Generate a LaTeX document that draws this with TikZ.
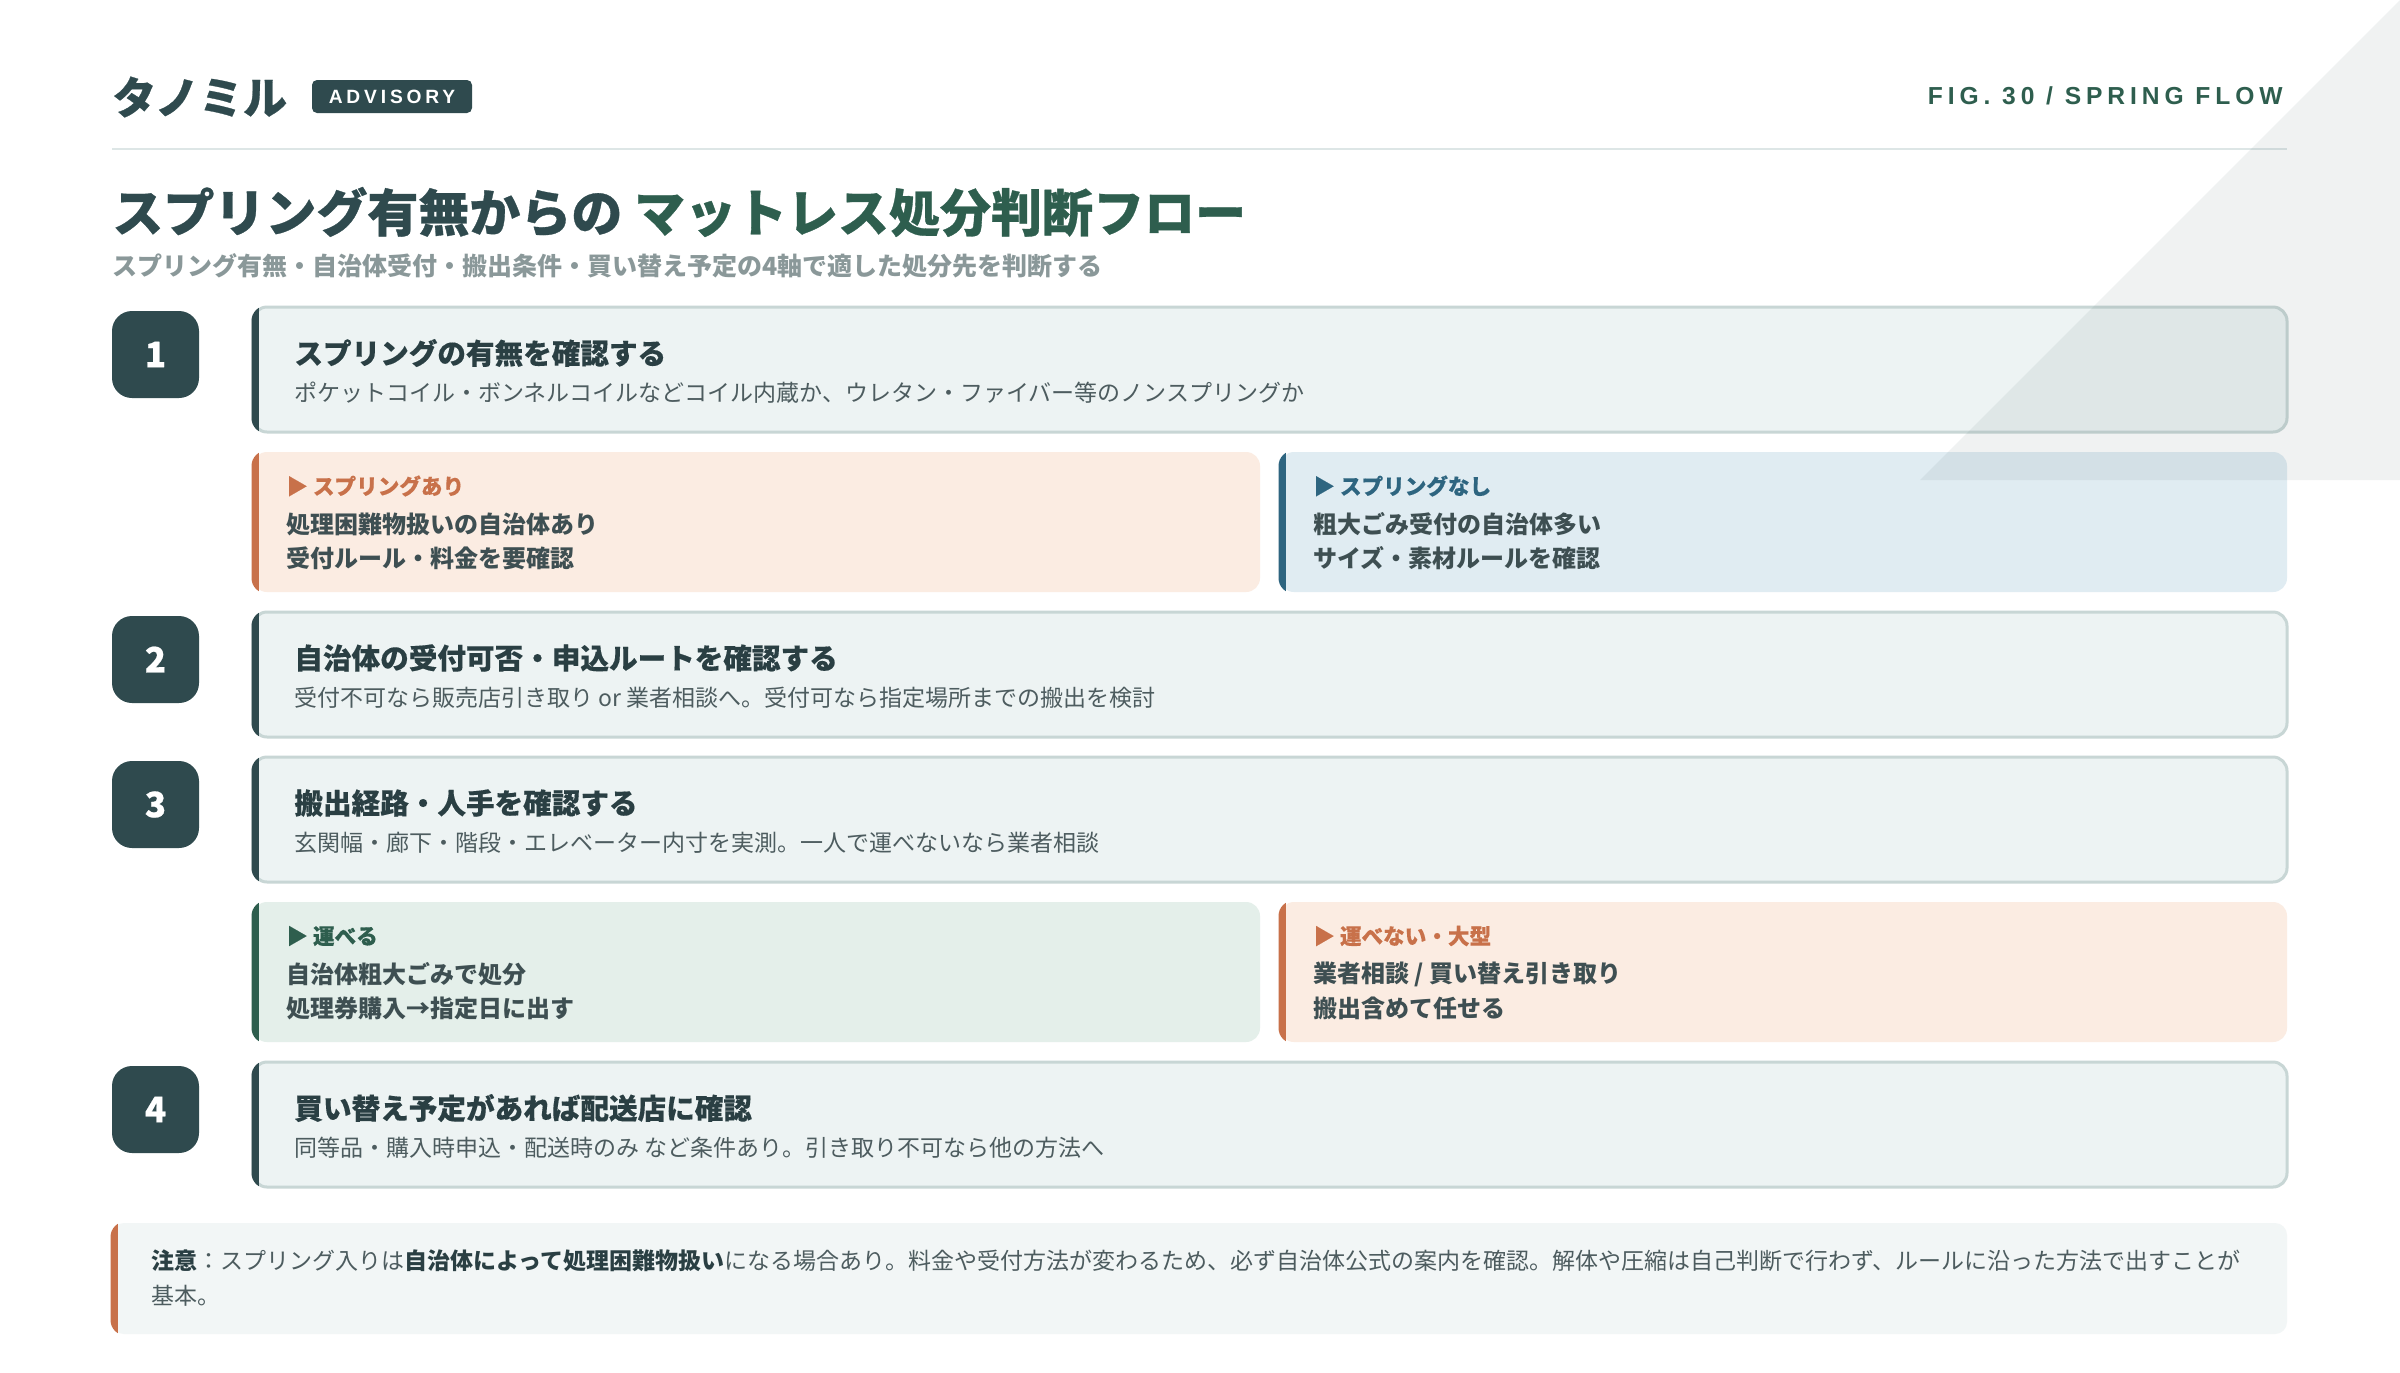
\documentclass[tikz,border=0pt]{standalone}
\usepackage{fontspec}
\setmainfont{Noto Sans CJK JP}
\newfontfamily\heavyfont{Noto Sans CJK JP}[BoldFeatures={FakeBold=0.6}]
\newfontfamily\midfont{Noto Sans CJK JP}[BoldFeatures={FakeBold=0.3}]
\newfontfamily\figfont{Liberation Sans}[LetterSpace=20]
\definecolor{slate}{HTML}{2F4A4E}
\definecolor{titlegreen}{HTML}{2E5E4E}
\definecolor{stepfill}{HTML}{EDF3F3}
\definecolor{stepline}{HTML}{C8D6D5}
\definecolor{peach}{HTML}{FBECE2}
\definecolor{orangeacc}{HTML}{C8714A}
\definecolor{bluefill}{HTML}{E0ECF2}
\definecolor{blueacc}{HTML}{2E6580}
\definecolor{greenfill}{HTML}{E4EFEA}
\definecolor{greenacc}{HTML}{2E5E4E}
\definecolor{notefill}{HTML}{F2F6F6}
\definecolor{descgray}{HTML}{4D5C5F}
\definecolor{brtext}{HTML}{3E4F52}
\definecolor{subgray}{HTML}{8A9899}
\definecolor{sepline}{HTML}{DDE6E6}
\definecolor{titledark}{HTML}{2A3F43}

\newcommand\accentbar[3]{%
  \begin{scope}
    \clip[rounded corners=7.75pt] ([shift={(-0.75pt,0.75pt)}]#1.north west) rectangle ([shift={(0.75pt,-0.75pt)}]#1.south east);
    \fill[#2] ([shift={(-1pt,1pt)}]#1.north west) rectangle ([shift={(#3,-1pt)}]#1.south west);
  \end{scope}}

\newcommand\stepblock[5]{%
  \node[stepbox] (s#1) at (1270,#2+62.5) {};
  \accentbar{s#1}{slate}{3.2pt}
  \node[badge] (b#1) at (155.5,#2+47.5) {#3};
  \node[steptitle] (s#1t) at (294,#2+46) {#4};
  \node[stepdesc] (s#1d) at (294,#2+86) {#5};}

\newcommand\branchblock[8]{%
  \node[branchbox, fill=#4] (r#1) at (#2+503.5,#3+70) {};
  \accentbar{r#1}{#5}{3pt}
  \node[brlabel, text=#5] (r#1a) at (#2+33,#3+34) {▶ #6};
  \node[brline] (r#1b) at (#2+33,#3+72) {#7};
  \node[brline] (r#1c) at (#2+33,#3+106) {#8};}

\begin{document}
\begin{tikzpicture}[x=0.5pt,y=-0.5pt,
  stepbox/.style={rectangle, rounded corners=7pt, fill=stepfill, draw=stepline, line width=1.5pt, minimum width=1017pt, minimum height=62.5pt, inner sep=0pt, outer sep=0pt},
  branchbox/.style={rectangle, rounded corners=7pt, minimum width=503.5pt, minimum height=70pt, inner sep=0pt, outer sep=0pt},
  notebox/.style={rectangle, rounded corners=6pt, fill=notefill, minimum width=1087.5pt, minimum height=55.5pt, inner sep=0pt, outer sep=0pt},
  badge/.style={rectangle, rounded corners=10pt, fill=slate, minimum size=43.5pt, inner sep=0pt, text=white, font=\heavyfont\bfseries\fontsize{17.5}{18}\selectfont},
  txt/.style={anchor=west, inner sep=0pt},
  steptitle/.style={txt, text=titledark, font=\midfont\bfseries\fontsize{14.3}{16}\selectfont},
  stepdesc/.style={txt, text=descgray, font=\fontsize{11.5}{14}\selectfont},
  brlabel/.style={txt, font=\midfont\bfseries\fontsize{10.8}{13}\selectfont},
  brline/.style={txt, text=brtext, font=\bfseries\fontsize{12}{14}\selectfont}
]
\useasboundingbox (0,0) rectangle (2400,1372);
\fill[white] (0,0) rectangle (2400,1372);

% header
\node[txt, font=\heavyfont\bfseries\fontsize{22}{24}\selectfont, text=slate] (brand) at (112,97) {タノミル};
\node[rectangle, fill=slate, rounded corners=2.5pt, minimum width=80pt, minimum height=16.5pt, inner sep=0pt, text=white, font=\figfont\bfseries\fontsize{9.6}{10}\selectfont] (adv) at (392,96.5) {ADVISORY};
\node[anchor=east, inner sep=0pt, text=titlegreen, font=\figfont\bfseries\fontsize{12.3}{13}\selectfont] (fig) at (2283,95.5) {FIG. 30 / SPRING FLOW};
\coordinate (sepL) at (112,149);
\coordinate (sepR) at (2287,149);
\draw[sepline, line width=1pt] (sepL) -- (sepR);

\node[txt, font=\heavyfont\bfseries\fontsize{25.5}{28}\selectfont] (title) at (112,212) {\color{slate}スプリング有無からの \color{titlegreen}マットレス処分判断フロー};
\node[txt, text=subgray, font=\bfseries\fontsize{12.5}{14}\selectfont] (subtitle) at (112,266) {スプリング有無・自治体受付・搬出条件・買い替え予定の4軸で適した処分先を判断する};

% steps
\stepblock{1}{307}{1}{スプリングの有無を確認する}{ポケットコイル・ボンネルコイルなどコイル内蔵か、ウレタン・ファイバー等のノンスプリングか}
\branchblock{1}{253}{452}{peach}{orangeacc}{スプリングあり}{処理困難物扱いの自治体あり}{受付ルール・料金を要確認}
\branchblock{2}{1280}{452}{bluefill}{blueacc}{スプリングなし}{粗大ごみ受付の自治体多い}{サイズ・素材ルールを確認}
\stepblock{2}{612}{2}{自治体の受付可否・申込ルートを確認する}{受付不可なら販売店引き取り or 業者相談へ。受付可なら指定場所までの搬出を検討}
\stepblock{3}{757}{3}{搬出経路・人手を確認する}{玄関幅・廊下・階段・エレベーター内寸を実測。一人で運べないなら業者相談}
\branchblock{3}{253}{902}{greenfill}{greenacc}{運べる}{自治体粗大ごみで処分}{処理券購入→指定日に出す}
\branchblock{4}{1280}{902}{peach}{orangeacc}{運べない・大型}{業者相談 / 買い替え引き取り}{搬出含めて任せる}
\stepblock{4}{1062}{4}{買い替え予定があれば配送店に確認}{同等品・購入時申込・配送時のみ など条件あり。引き取り不可なら他の方法へ}

% note
\node[notebox] (note) at (1199.5,1278.5) {};
\accentbar{note}{orangeacc}{3pt}
\node[txt, align=left, text=descgray, font=\fontsize{11.5}{17.5}\selectfont] (notetext) at (151,1278.5) {{\bfseries\color{titledark}注意}：スプリング入りは{\bfseries\color{titledark}自治体によって処理困難物扱い}になる場合あり。料金や受付方法が変わるため、必ず自治体公式の案内を確認。解体や圧縮は自己判断で行わず、ルールに沿った方法で出すことが\\基本。};

% decorative triangle
\fill[slate, opacity=0.07] (2400,0) -- (2400,480) -- (1920,480) -- cycle;
\end{tikzpicture}
\end{document}
